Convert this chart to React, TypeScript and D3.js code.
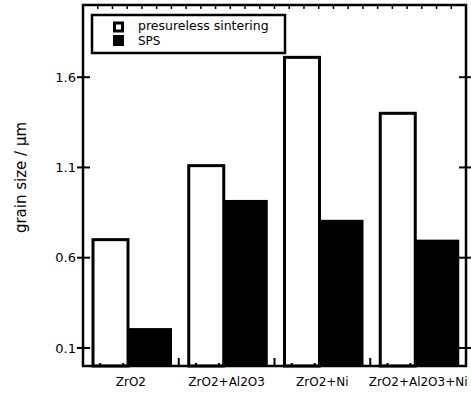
import * as d3 from 'd3';

const categories = ['ZrO2', 'ZrO2+Al2O3', 'ZrO2+Ni', 'ZrO2+Al2O3+Ni'];
const series = ['presureless sintering', 'SPS'];
const pressureless = [0.70, 1.11, 1.71, 1.40];
const sps = [0.21, 0.92, 0.81, 0.70];
const yTicks = [0.1, 0.6, 1.1, 1.6];

const W = 471;
const H = 393;
const m = { left: 83, right: 5, top: 5, bottom: 27 };
const font = '"DejaVu Sans", Verdana, sans-serif';

const App = () => {
  const x = d3.scaleBand().domain(categories).range([m.left, W - m.right]).padding(0);
  const y = d3.scaleLinear().domain([0, 2.0]).range([H - m.bottom, m.top]);
  const bw = x.bandwidth();
  // offsets of the two bars inside a group (white narrower than black)
  const inner = d3.scaleOrdinal<string, [number, number]>().domain(series).range([[10, 45], [45, 89]]);
  const topTicks = d3.scaleLinear().domain([0, 26]).range([m.left, W - m.right]);
  const bottomY = y(0);

  return (
    <svg width={W} height={H} style={{ position: 'absolute', left: 0, top: 0, background: '#fff' }} fontFamily={font}>
      {/* bars */}
      {categories.map((c, i) => {
        const g = x(c)!;
        const [w0, w1] = inner(series[0]);
        const [b0, b1] = inner(series[1]);
        return (
          <g key={c}>
            <rect x={g + w0} y={y(pressureless[i])} width={w1 - w0} height={bottomY - y(pressureless[i])}
              fill="#fff" stroke="#000" strokeWidth={3} />
            <rect x={g + b0} y={y(sps[i])} width={b1 - b0} height={bottomY - y(sps[i])} fill="#000" />
          </g>
        );
      })}

      {/* top minor ticks */}
      {d3.range(1, 26).map(k => (
        <line key={'t' + k} x1={topTicks(k)} x2={topTicks(k)} y1={m.top} y2={m.top + 4} stroke="#000" strokeWidth={1.5} />
      ))}

      {/* bottom ticks */}
      {categories.map((c, i) => (
        <g key={'b' + c}>
          {i > 0 && <line x1={x(c)} x2={x(c)} y1={bottomY} y2={bottomY - 8} stroke="#000" strokeWidth={2} />}
          {[0.18, 0.42, 0.65, 0.89].map(f => (
            <line key={f} x1={x(c)! + bw * f} x2={x(c)! + bw * f} y1={bottomY} y2={bottomY - 3} stroke="#000" strokeWidth={2} />
          ))}
        </g>
      ))}

      {/* y ticks left and right */}
      {yTicks.map(t => (
        <g key={'y' + t}>
          <line x1={m.left - 6} x2={m.left + 7} y1={y(t)} y2={y(t)} stroke="#000" strokeWidth={2} />
          <line x1={W - m.right - 7} x2={W - m.right + 5} y1={y(t)} y2={y(t)} stroke="#000" strokeWidth={2} />
          <text x={m.left - 7} y={y(t)} dy="0.35em" textAnchor="end" fontSize={13}>{t.toFixed(1)}</text>
        </g>
      ))}

      {/* frame */}
      <rect x={m.left} y={m.top} width={W - m.left - m.right} height={bottomY - m.top} fill="none" stroke="#000" strokeWidth={2.5} />

      {/* category labels */}
      {categories.map(c => (
        <text key={'l' + c} x={x(c)! + bw / 2} y={386} textAnchor="middle" fontSize={12}>{c}</text>
      ))}

      {/* y title */}
      <text transform={`translate(26, ${(m.top + bottomY) / 2 - 8}) rotate(-90)`} textAnchor="middle" fontSize={15}>grain size / µm</text>

      {/* legend */}
      <g>
        <rect x={92} y={15} width={193} height={38} fill="#fff" stroke="#000" strokeWidth={2.5} />
        <rect x={114.5} y={23} width={8} height={8} fill="#fff" stroke="#000" strokeWidth={3} />
        <rect x={113} y={35} width={11} height={11} fill="#000" />
        <text x={138} y={30} fontSize={12.5}>{series[0]}</text>
        <text x={138} y={45} fontSize={12}>{series[1]}</text>
      </g>
    </svg>
  );
};

export default App;
